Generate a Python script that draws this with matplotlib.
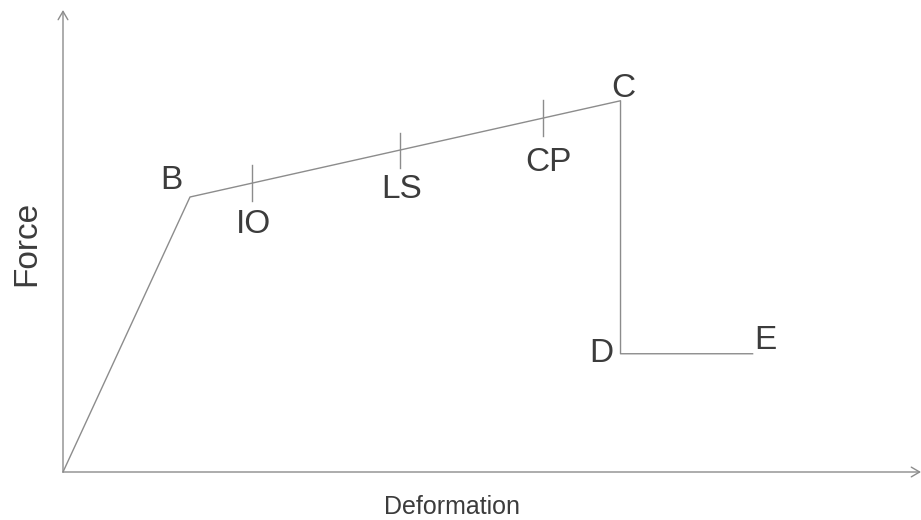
import numpy as np
import matplotlib
matplotlib.use("Agg")
import matplotlib.pyplot as plt

plt.rcParams['font.family'] = ['Liberation Sans', 'DejaVu Sans']

# force-deformation backbone curve (normalised: B = yield point)
point_names = ["A", "B", "C", "D", "E"]
deformation = [0.0, 1.0, 4.39, 4.39, 5.43]
force = [0.0, 1.0, 1.35, 0.43, 0.43]

# performance levels along segment B-C
level_names = ["IO", "LS", "CP"]
level_deformation = [1.49, 2.65, 3.78]

W, H = 921, 520
fig = plt.figure(figsize=(W / 100, H / 100), dpi=100)
# axes box runs from the origin to the arrow tips
ax = fig.add_axes([63 / W, 48 / H, (W - 63) / W, (472 - 10) / H])
ax.set_xlim(0, 6.756)
ax.set_ylim(0, 1.68)
ax.axis("off")

line_col = "#8c8c8c"
text_col = "#3c3c3c"

ax.plot(deformation, force, color=line_col, lw=1.0, clip_on=False)

# tick marks for the performance levels
bc_x = deformation[1:3]
bc_y = force[1:3]
half = 0.064
for name, xv in zip(level_names, level_deformation):
    yv = np.interp(xv, bc_x, bc_y)
    ax.plot([xv, xv], [yv - half, yv + half], color=line_col, lw=1.0)

# axis arrows
arrow = dict(arrowstyle="->,head_length=0.6,head_width=0.35", color="#8c8c8c",
             lw=1.0, mutation_scale=10, shrinkA=0, shrinkB=0)
ax.annotate("", xy=(1, 0), xytext=(0, 0), xycoords="axes fraction",
            arrowprops=arrow, annotation_clip=False)
ax.annotate("", xy=(0, 1), xytext=(0, 0), xycoords="axes fraction",
            arrowprops=arrow, annotation_clip=False)

# point labels (offsets in pixels, to the text baseline)
fs = 24
point_offsets = {"B": (-19, 8), "C": (3, 4), "D": (-19, -8), "E": (13, 5)}
for name, xv, yv in zip(point_names, deformation, force):
    if name not in point_offsets:
        continue
    ax.annotate(name, (xv, yv), xytext=point_offsets[name], textcoords="offset pixels",
                ha="center", va="baseline", fontsize=fs, color=text_col)

level_offsets = [(1, -50), (2, -48), (5, -53)]
for name, xv, off in zip(level_names, level_deformation, level_offsets):
    yv = np.interp(xv, bc_x, bc_y)
    ax.annotate(name, (xv, yv), xytext=off, textcoords="offset pixels",
                ha="center", va="baseline", fontsize=fs, color=text_col)

fig.text(452 / W, 1 - 514 / H, "Deformation", ha="center", va="baseline",
         fontsize=18, color=text_col)
fig.text(27 / W, 1 - 243 / H, "Force", ha="center", va="center",
         rotation=90, fontsize=24, color=text_col)

fig.savefig("out.png", dpi=100, facecolor="white")
